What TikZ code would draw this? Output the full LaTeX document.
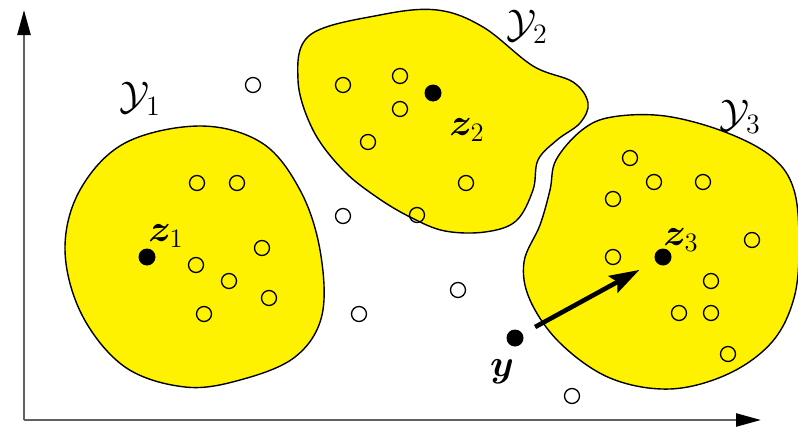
\documentclass[tikz,border=0pt]{standalone}
\RequirePackage{fix-cm}
\usepackage{bm}
\usetikzlibrary{arrows.meta}
\begin{document}
\begin{tikzpicture}[x=0.5pt,y=-0.5pt,
  blob/.style={draw=black,line width=0.7pt,fill=yellow},
  pt/.style={circle,draw=black,line width=0.65pt,fill=none,minimum size=7.5pt,inner sep=0pt},
  wpt/.style={pt,fill=white},
  dot/.style={circle,fill=black,minimum size=8.5pt,inner sep=0pt},
  axis/.style={draw=black!62,line width=1.2pt,-{Triangle[length=12.5pt,width=6.5pt,color=black]}},
  setlab/.style={font=\fontsize{20}{24}\selectfont,inner sep=0pt},
  ptlab/.style={font=\fontsize{19}{22}\selectfont,inner sep=0pt},
  vec/.style={line width=2.3pt,-{Stealth[length=15pt,width=9.5pt,inset=2.5pt]}}]
\useasboundingbox (0,0) rectangle (798,428);
% axes
\coordinate (o) at (24,420);
\coordinate (ytop) at (24,10);
\coordinate (xend) at (761,420);
\draw[axis] (o) -- (ytop);
\draw[axis] (o) -- (xend);
% blobs
\draw[blob] plot[smooth cycle,tension=0.6] coordinates {(200,126) (262,143) (300,190) (320,250) (322,315) (295,357) (240,380) (185,387) (125,367) (82,315) (65,250) (80,190) (125,143)};
\draw[blob] plot[smooth cycle,tension=0.6] coordinates {(380,15) (437,10) (483,27) (533,66) (573,82) (588,103) (580,123) (557,140) (538,160) (533,190) (516,221) (485,232) (445,231) (412,218) (378,198) (343,170) (313,130) (298,80) (310,35)};
\draw[blob] plot[smooth cycle,tension=0.6] coordinates {(612,117) (665,116) (725,132) (772,157) (794,190) (799,245) (794,298) (772,342) (728,374) (670,389) (610,378) (560,343) (530,300) (524,262) (540,225) (550,190) (556,160) (582,130)};
% points in Y1
\node[pt] (a1) at (197,183) {};
\node[pt] (a2) at (237,183) {};
\node[pt] (a3) at (262,248) {};
\node[pt] (a4) at (196,265) {};
\node[pt] (a5) at (229,281) {};
\node[pt] (a6) at (269,298) {};
\node[pt] (a7) at (204,314) {};
% points in Y2
\node[pt] (b1) at (343,85) {};
\node[pt] (b2) at (400,76) {};
\node[pt] (b3) at (400,109) {};
\node[pt] (b4) at (368,142) {};
\node[pt] (b5) at (466,183) {};
\node[pt] (b6) at (417,215) {};
% points in Y3
\node[pt] (c1) at (630,158) {};
\node[pt] (c2) at (654,182) {};
\node[pt] (c3) at (703,182) {};
\node[pt] (c4) at (613,199) {};
\node[pt] (c5) at (752,240) {};
\node[pt] (c6) at (613,257) {};
\node[pt] (c7) at (711,281) {};
\node[pt] (c8) at (679,313) {};
\node[pt] (c9) at (711,313) {};
\node[pt] (c10) at (728,354) {};
% outliers
\node[wpt] (w1) at (253,85) {};
\node[wpt] (w2) at (343,216) {};
\node[wpt] (w3) at (359,314) {};
\node[wpt] (w4) at (458,290) {};
\node[wpt] (w5) at (572,396) {};
% centres
\node[dot] (z1) at (147,257) {};
\node[dot] (z2) at (433,93) {};
\node[dot] (z3) at (663,257) {};
\node[dot] (y) at (515,338) {};
% arrow
\draw[vec,shorten <=7pt,shorten >=9pt] (y) -- (z3);
% labels
\node[setlab] (l1) at (140,99) {$\mathcal{Y}_1$};
\node[setlab] (l2) at (527,27) {$\mathcal{Y}_2$};
\node[setlab] (l3) at (740,117) {$\mathcal{Y}_3$};
\node[ptlab] (lz1) at (166,236) {$\bm{z}_1$};
\node[ptlab] (lz2) at (467,130) {$\bm{z}_2$};
\node[ptlab] (lz3) at (681,240) {$\bm{z}_3$};
\node[ptlab] (ly) at (502,372) {$\bm{y}$};
\end{tikzpicture}
\end{document}
